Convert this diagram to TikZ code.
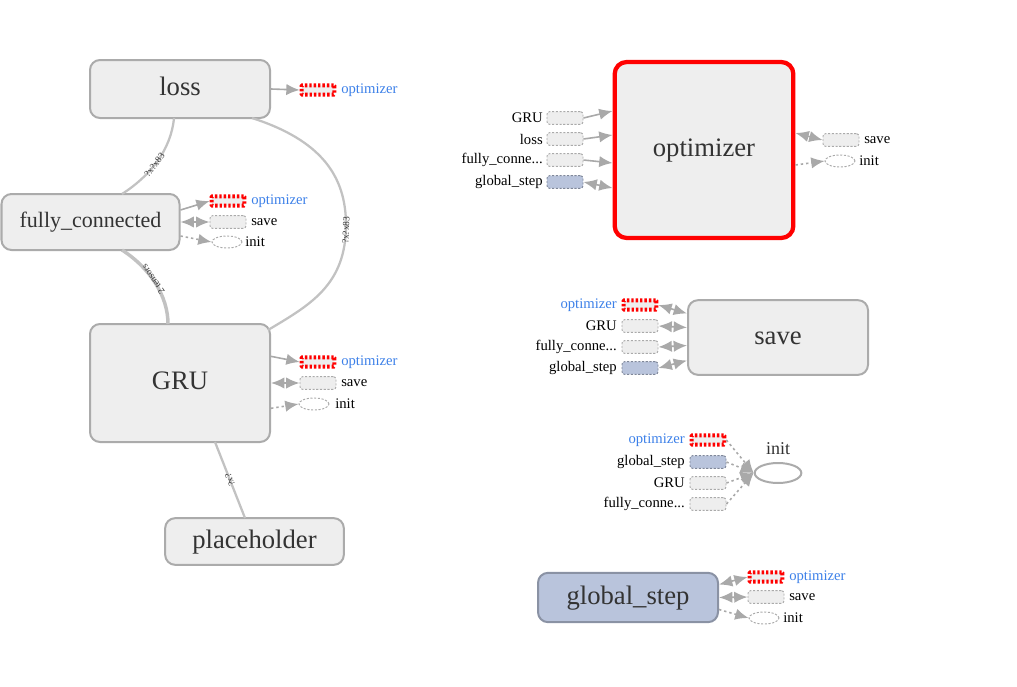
\documentclass[tikz,border=0pt]{standalone}
\usepackage{fontspec}
\setmainfont{Liberation Serif}
\usetikzlibrary{arrows.meta,shapes.geometric}
\definecolor{nodefill}{HTML}{EEEEEE}
\definecolor{nodeline}{HTML}{ABABAB}
\definecolor{edgegray}{HTML}{C2C2C2}
\definecolor{arrgray}{HTML}{A9A9A9}
\definecolor{stubline}{HTML}{AAAAAA}
\definecolor{optblue}{HTML}{3C80E8}
\definecolor{gsfill}{HTML}{B9C4DC}
\definecolor{gsline}{HTML}{8A92A4}
\definecolor{gsstubline}{HTML}{7F8799}
\definecolor{txt}{HTML}{333333}
\definecolor{optred}{HTML}{FF0000}
\tikzset{
  mainbox/.style={draw=nodeline, fill=nodefill, line width=1.5pt, rounded corners=7.5pt,
    text=txt, font=\fontsize{20}{24}\selectfont, inner sep=0pt, text height=13.6pt, text depth=3.6pt},
  stubbox/.style={draw=stubline, fill=nodefill, line width=0.7pt, dash pattern=on 1.6pt off 1.2pt,
    rounded corners=2pt, minimum width=27pt, minimum height=9.5pt, inner sep=0pt},
  redstub/.style={stubbox, draw=optred, line width=3pt, dash pattern=on 1.8pt off 1.5pt, rounded corners=0.5pt,
    minimum width=24.5pt, minimum height=7pt},
  bluestub/.style={stubbox, draw=gsstubline, fill=gsfill},
  initstub/.style={ellipse, draw=stubline, fill=white, line width=0.7pt, dash pattern=on 1.6pt off 1.2pt,
    minimum width=22.5pt, minimum height=9pt, inner sep=0pt},
  slbl/.style={font=\fontsize{11}{12}\selectfont, text=black, inner sep=0pt},
  blbl/.style={slbl, text=optblue},
  arr/.style={draw=arrgray, line width=1.2pt, -{Latex[length=10pt,width=8.5pt]}},
  barr/.style={draw=arrgray, line width=1.2pt, {Latex[length=10pt,width=8.5pt]}-{Latex[length=10pt,width=8.5pt]}},
  darr/.style={draw=arrgray, line width=1.2pt, dash pattern=on 1.8pt off 2.2pt, -{Latex[length=10pt,width=8.5pt]}},
  edge/.style={draw=edgegray, line width=1.7pt},
  elbl/.style={font=\fontsize{7}{8}\selectfont, text=txt, sloped, allow upside down, inner sep=0.5pt}
}
\begin{document}
\begin{tikzpicture}[x=0.75pt,y=-0.75pt]
\useasboundingbox (0,0) rectangle (1017,686);

% ---------- main nodes ----------
\node[mainbox, minimum width=135pt, minimum height=43.5pt] (loss) at (180,89) {loss};
\node[mainbox, minimum width=133.5pt, minimum height=42pt, font=\fontsize{16.5}{20}\selectfont, text height=11.6pt, text depth=3.4pt] (fc) at (90.5,222) {fully\_connected};
\node[mainbox, minimum width=135pt, minimum height=88.5pt] (gru) at (180,383) {GRU};
\node[mainbox, minimum width=134pt, minimum height=35pt] (ph) at (254.5,541.5) {placeholder};
\node[mainbox, draw=optred, line width=3.2pt, minimum width=134pt, minimum height=132pt, rounded corners=9pt] (opt) at (704,150) {optimizer};
\node[mainbox, minimum width=135pt, minimum height=56pt] (save) at (778,337.5) {save};
\node[ellipse, draw=nodeline, fill=white, line width=1.5pt, minimum width=35pt, minimum height=15pt, inner sep=0pt] (init) at (778,473) {};
\node[text=txt, font=\fontsize{13.5}{15}\selectfont, inner sep=0pt] (initlbl) at (778,449) {init};
\node[mainbox, draw=gsline, fill=gsfill, minimum width=135pt, minimum height=37pt] (gs) at (628,597.5) {global\_step};

% ---------- edges between main nodes ----------
\draw[edge] (122,194) .. controls (150,176) and (171,150) .. (174,118)
  node[elbl, pos=0.45] (e1) {?x?x83};
\draw[edge, line width=2.6pt] (168,324) .. controls (168,296) and (150,268) .. (122,250)
  node[elbl, pos=0.55] (e2) {2 tensors};
\draw[edge] (268,330) .. controls (310,305) and (346,285) .. node[elbl, pos=0.97] (e3) {?x?x83} (346,225)
  .. controls (346,175) and (320,140) .. (252,118);
\draw[edge] (245,518) -- (215,442)
  node[elbl, midway] (e4) {?x?};

% ---------- loss stubs ----------
\node[redstub] (lossopt) at (318,90) {};
\node[blbl, anchor=west] (lossoptl) at (341,90) {optimizer};
\draw[arr] (loss.east) -- (lossopt.west);

% ---------- fully_connected stubs ----------
\node[redstub] (fcopt) at (228,201) {};
\node[stubbox] (fcsave) at (228,222) {};
\node[initstub] (fcinit) at (227,242) {};
\node[blbl, anchor=west] (fcoptl) at (251,201) {optimizer};
\node[slbl, anchor=west] (fcsavel) at (251,222) {save};
\node[slbl, anchor=west] (fcinitl) at (245,242) {init};
\draw[arr] ([yshift=9pt]fc.east) -- (fcopt.west);
\draw[barr] (fc.east) -- (fcsave.west);
\draw[darr] ([yshift=-10.5pt]fc.east) -- (fcinit.west);

% ---------- GRU stubs ----------
\node[redstub] (gruopt) at (318,362) {};
\node[stubbox] (grusave) at (318,383) {};
\node[initstub] (gruinit) at (314,404) {};
\node[blbl, anchor=west] (gruoptl) at (341,362) {optimizer};
\node[slbl, anchor=west] (grusavel) at (341,383) {save};
\node[slbl, anchor=west] (gruinitl) at (335,404) {init};
\draw[arr] ([yshift=20pt]gru.east) -- (gruopt.west);
\draw[barr] (gru.east) -- (grusave.west);
\draw[darr] ([yshift=-19pt]gru.east) -- (gruinit.west);

% ---------- optimizer inputs ----------
\node[stubbox] (oi1) at (565,118) {};
\node[stubbox] (oi2) at (565,139) {};
\node[stubbox] (oi3) at (565,160) {};
\node[bluestub] (oi4) at (565,182) {};
\node[slbl, anchor=east] (oi1l) at (543,118) {GRU};
\node[slbl, anchor=east] (oi2l) at (543,139) {loss};
\node[slbl, anchor=east] (oi3l) at (543,160) {fully\_conne...};
\node[slbl, anchor=east] (oi4l) at (543,182) {global\_step};
\draw[arr] (oi1.east) -- ([yshift=29.25pt]opt.west);
\draw[arr] (oi2.east) -- ([yshift=11.25pt]opt.west);
\draw[arr] (oi3.east) -- ([yshift=-9.75pt]opt.west);
\draw[barr] (oi4.east) -- ([yshift=-28.5pt]opt.west);

% ---------- optimizer outputs ----------
\node[stubbox] (osave) at (841,140) {};
\node[initstub] (oinit) at (840,161) {};
\node[slbl, anchor=west] (osavel) at (864,140) {save};
\node[slbl, anchor=west] (oinitl) at (859,161) {init};
\draw[barr] ([yshift=12.75pt]opt.east) -- (osave.west);
\draw[darr] ([yshift=-11.25pt]opt.east) -- (oinit.west);

% ---------- save inputs ----------
\node[redstub] (si1) at (640,305) {};
\node[stubbox] (si2) at (640,326) {};
\node[stubbox] (si3) at (640,347) {};
\node[bluestub] (si4) at (640,368) {};
\node[blbl, anchor=east] (si1l) at (617,305) {optimizer};
\node[slbl, anchor=east] (si2l) at (617,326) {GRU};
\node[slbl, anchor=east] (si3l) at (617,347) {fully\_conne...};
\node[slbl, anchor=east] (si4l) at (617,368) {global\_step};
\draw[barr] (si1.east) -- ([yshift=18pt]save.west);
\draw[barr] (si2.east) -- ([yshift=7.5pt]save.west);
\draw[barr] (si3.east) -- ([yshift=-6pt]save.west);
\draw[barr] (si4.east) -- ([yshift=-17.25pt]save.west);

% ---------- init inputs ----------
\node[redstub] (ii1) at (708,440) {};
\node[bluestub] (ii2) at (708,462) {};
\node[stubbox] (ii3) at (708,483) {};
\node[stubbox] (ii4) at (708,504) {};
\node[blbl, anchor=east] (ii1l) at (685,440) {optimizer};
\node[slbl, anchor=east] (ii2l) at (685,462) {global\_step};
\node[slbl, anchor=east] (ii3l) at (685,483) {GRU};
\node[slbl, anchor=east] (ii4l) at (685,504) {fully\_conne...};
\draw[darr] (ii1.east) -- (init.west);
\draw[darr] (ii2.east) -- (init.west);
\draw[darr] (ii3.east) -- (init.west);
\draw[darr] (ii4.east) -- (init.west);

% ---------- global_step outputs ----------
\node[redstub] (gopt) at (766,577) {};
\node[stubbox] (gsave) at (766,597) {};
\node[initstub] (ginit) at (764,618) {};
\node[blbl, anchor=west] (goptl) at (789,577) {optimizer};
\node[slbl, anchor=west] (gsavel) at (789,597) {save};
\node[slbl, anchor=west] (ginitl) at (783,618) {init};
\draw[barr] ([yshift=9.75pt]gs.east) -- (gopt.west);
\draw[barr] (gs.east) -- (gsave.west);
\draw[darr] ([yshift=-9pt]gs.east) -- (ginit.west);
\end{tikzpicture}
\end{document}
